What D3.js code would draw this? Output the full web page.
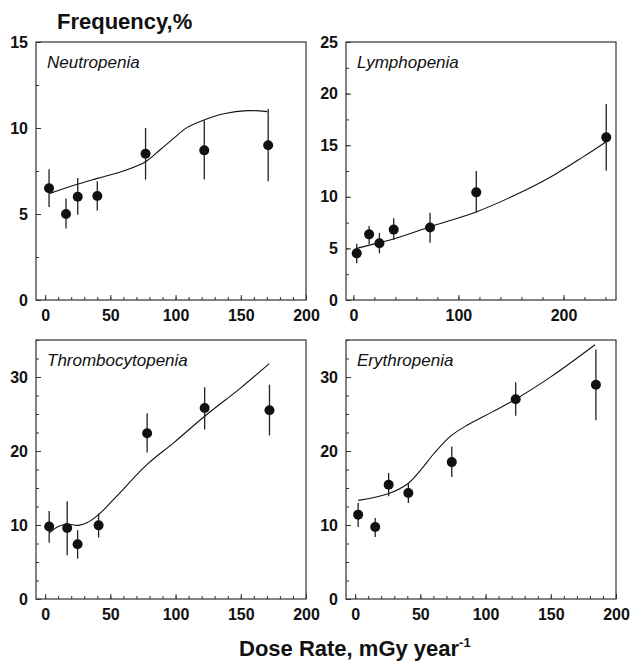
<!DOCTYPE html>
<html>
<head>
<meta charset="utf-8">
<script src="https://cdn.jsdelivr.net/npm/d3@7"></script>
<style>
  body { margin: 0; background: #fff; }
  svg text { font-family: "Liberation Sans", Arial, Helvetica, sans-serif; }
</style>
</head>
<body>
<div id="chart"></div>
<script>
const width = 632,
  height = 665

// Neutropenia
const neutDose = [3, 16, 25, 40, 77, 122, 171]
const neutFreq = [6.5, 5.0, 6.0, 6.05, 8.5, 8.7, 9.0]
const neutLo = [5.4, 4.15, 4.95, 5.2, 7.0, 7.0, 6.9]
const neutHi = [7.6, 5.9, 7.1, 6.9, 10.0, 10.45, 11.1]
const neutFitDose = [3.6, 24.6, 40, 60, 77, 88, 98.5, 108.7, 121.8, 137, 155, 170.3]
const neutFitFreq = [6.2, 6.73, 7.07, 7.5, 8.04, 8.72, 9.4, 10.02, 10.47, 10.83, 11.01, 10.95]

// Lymphopenia
const lymphDose = [3.2, 15, 24.8, 38.4, 73, 117, 240.7]
const lymphFreq = [4.52, 6.36, 5.5, 6.82, 7.02, 10.43, 15.76]
const lymphLo = [3.55, 5.43, 4.52, 5.81, 5.55, 8.46, 12.53]
const lymphHi = [5.45, 7.17, 6.5, 7.91, 8.46, 12.5, 19.0]
const lymphFitDose = [3.2, 24.8, 38.1, 73, 117.5, 155.6, 187.3, 219, 240.7]
const lymphFitFreq = [5.0, 5.56, 5.91, 7.1, 8.56, 10.24, 11.89, 13.89, 15.34]

// Thrombocytopenia
const thromDose = [3.1, 16.9, 24.9, 41, 78.2, 122.3, 172]
const thromFreq = [9.8, 9.6, 7.4, 9.95, 22.4, 25.8, 25.5]
const thromLo = [7.6, 5.9, 5.45, 8.3, 19.8, 22.9, 22.1]
const thromHi = [11.9, 13.2, 9.3, 11.55, 25.1, 28.6, 28.96]
const thromFitDose = [3.1, 10, 16.9, 25.5, 32, 41, 54.9, 78, 98.5, 122.3, 149.8, 171.8]
const thromFitFreq = [8.9, 9.8, 10.1, 9.95, 10.3, 11.4, 13.9, 18.15, 21.1, 24.7, 28.5, 31.8]

// Erythropenia
const erythDose = [2.3, 15.4, 25.7, 40.8, 74.1, 123.1, 184.6]
const erythFreq = [11.4, 9.73, 15.45, 14.32, 18.5, 27.0, 28.96]
const erythLo = [9.73, 8.38, 13.87, 12.97, 16.5, 24.77, 24.14]
const erythHi = [12.97, 10.95, 17.03, 15.58, 20.6, 29.3, 33.7]
const erythFitDose = [2.3, 25.4, 40.3, 50.5, 60.8, 73.6, 86.5, 104.4, 123.1, 150.5, 183.9]
const erythFitFreq = [13.33, 14.23, 15.58, 17.47, 19.73, 22.07, 23.55, 25.22, 27.0, 30.08, 34.36]

// tick labels
const xTicks200 = [0, 50, 100, 150, 200]
const xTicks250 = [0, 100, 200]
const yTicks15 = [0, 5, 10, 15]
const yTicks25 = [0, 5, 10, 15, 20, 25]
const yTicks35 = [0, 10, 20, 30]

const svg = d3
  .select("#chart")
  .append("svg")
  .attr("width", width)
  .attr("height", height)

function drawPanel(p) {
  const g = svg.append("g").attr("transform", `translate(${p.left}, ${p.top})`)

  const x = d3.scaleLinear().domain(p.xDomain).range([0, p.w])
  const y = d3.scaleLinear().domain(p.yDomain).range([p.h, 0])

  // minor ticks
  g.append("g")
    .attr("transform", `translate(0, ${p.h})`)
    .call(d3.axisBottom(x).tickValues(d3.range(0, p.xDomain[1] + 0.1, p.xMinor)).tickSize(-3).tickFormat(""))
    .call(a => a.select(".domain").remove())
  g.append("g")
    .call(d3.axisLeft(y).tickValues(d3.range(0, p.yDomain[1] + 0.1, p.yMinor)).tickSize(-3).tickFormat(""))
    .call(a => a.select(".domain").remove())

  // major ticks + labels
  g.append("g")
    .attr("transform", `translate(0, ${p.h})`)
    .call(d3.axisBottom(x).tickValues(p.xTicks).tickSize(-5).tickPadding(10))
    .call(a => a.select(".domain").remove())
    .selectAll("text")
    .style("font-size", "16px")
    .style("font-weight", "bold")
    .attr("fill", "#111")
  g.append("g")
    .call(d3.axisLeft(y).tickValues(p.yTicks).tickSize(-5).tickPadding(8))
    .call(a => a.select(".domain").remove())
    .selectAll("text")
    .style("font-size", "16px")
    .style("font-weight", "bold")
    .attr("fill", "#111")
  g.selectAll(".tick line").attr("stroke", "#333")

  // frame
  g.append("rect")
    .attr("width", p.w)
    .attr("height", p.h)
    .attr("fill", "none")
    .attr("stroke", "#333")
    .attr("stroke-width", 1.2)

  // fitted curve
  const fit = p.fitDose.map((d, i) => ({ x: d, y: p.fitFreq[i] }))
  const line = d3.line()
    .x(d => x(d.x))
    .y(d => y(d.y))
    .curve(d3.curveCatmullRom.alpha(0.5))
  g.append("path")
    .attr("d", line(fit))
    .attr("fill", "none")
    .attr("stroke", "#111")
    .attr("stroke-width", 1.1)

  // error bars
  const pts = p.dose.map((d, i) => ({ x: d, y: p.freq[i], lo: p.lo[i], hi: p.hi[i] }))
  g.selectAll(".err")
    .data(pts)
    .enter()
    .append("line")
    .attr("class", "err")
    .attr("x1", d => x(d.x))
    .attr("x2", d => x(d.x))
    .attr("y1", d => y(d.lo))
    .attr("y2", d => y(d.hi))
    .attr("stroke", "#222")
    .attr("stroke-width", 1.3)

  g.selectAll(".dot")
    .data(pts)
    .enter()
    .append("circle")
    .attr("class", "dot")
    .attr("cx", d => x(d.x))
    .attr("cy", d => y(d.y))
    .attr("r", 5)
    .attr("fill", "#111")

  g.append("text")
    .attr("x", 11)
    .attr("y", 26)
    .style("font-size", "17px")
    .style("font-style", "italic")
    .attr("fill", "#111")
    .text(p.name)
}

drawPanel({
  name: "Neutropenia", left: 36, top: 42, w: 270, h: 258,
  xDomain: [-7, 200], yDomain: [0, 15], xTicks: xTicks200, yTicks: yTicks15, xMinor: 10, yMinor: 2.5,
  dose: neutDose, freq: neutFreq, lo: neutLo, hi: neutHi, fitDose: neutFitDose, fitFreq: neutFitFreq
})
drawPanel({
  name: "Lymphopenia", left: 346, top: 42, w: 270, h: 258,
  xDomain: [-7, 250], yDomain: [0, 25], xTicks: xTicks250, yTicks: yTicks25, xMinor: 20, yMinor: 2.5,
  dose: lymphDose, freq: lymphFreq, lo: lymphLo, hi: lymphHi, fitDose: lymphFitDose, fitFreq: lymphFitFreq
})
drawPanel({
  name: "Thrombocytopenia", left: 36, top: 340, w: 270, h: 259,
  xDomain: [-7, 200], yDomain: [0, 35], xTicks: xTicks200, yTicks: yTicks35, xMinor: 10, yMinor: 2.5,
  dose: thromDose, freq: thromFreq, lo: thromLo, hi: thromHi, fitDose: thromFitDose, fitFreq: thromFitFreq
})
drawPanel({
  name: "Erythropenia", left: 346, top: 340, w: 270, h: 259,
  xDomain: [-7, 200], yDomain: [0, 35], xTicks: xTicks200, yTicks: yTicks35, xMinor: 10, yMinor: 2.5,
  dose: erythDose, freq: erythFreq, lo: erythLo, hi: erythHi, fitDose: erythFitDose, fitFreq: erythFitFreq
})

// axis titles
svg.append("text")
  .attr("x", 57)
  .attr("y", 29)
  .style("font-size", "22px")
  .style("font-weight", "bold")
  .attr("fill", "#111")
  .text("Frequency,%")

const xTitle = svg.append("text")
  .attr("x", 239)
  .attr("y", 656)
  .style("font-size", "22px")
  .style("font-weight", "bold")
  .attr("fill", "#111")
xTitle.append("tspan").text("Dose Rate, mGy year")
xTitle.append("tspan")
  .attr("dy", -9)
  .style("font-size", "13px")
  .text("-1")
</script>
</body>
</html>
